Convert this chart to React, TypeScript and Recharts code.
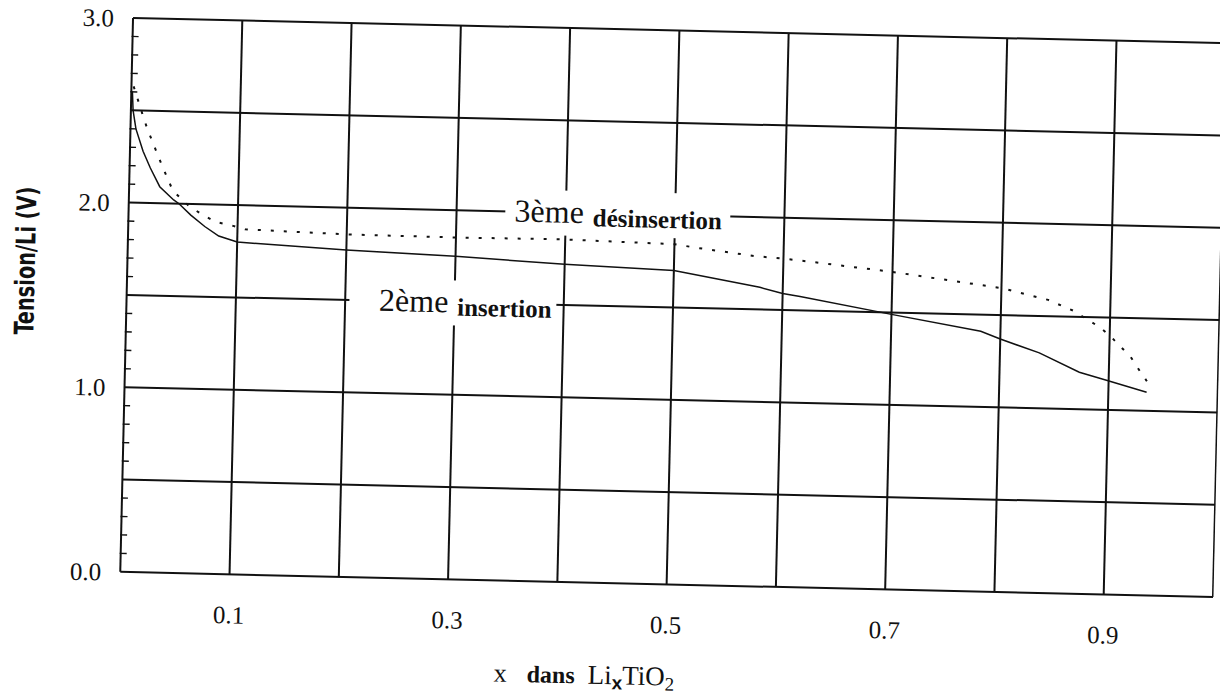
import React from 'react';
import { LineChart, Line, XAxis, YAxis, CartesianGrid, ReferenceDot } from 'recharts';

// 2ème insertion (solid)
const insertionX = [0.001, 0.002, 0.005, 0.012, 0.019, 0.028, 0.041, 0.046, 0.057, 0.07, 0.083, 0.1, 0.2, 0.3, 0.4, 0.5, 0.579, 0.6, 0.616, 0.7, 0.782, 0.8, 0.836, 0.873, 0.898, 0.935];
const insertionV = [2.6, 2.5, 2.4, 2.28, 2.19, 2.09, 2.02, 2.0, 1.94, 1.88, 1.83, 1.8, 1.77, 1.75, 1.72, 1.7, 1.62, 1.59, 1.575, 1.49, 1.41, 1.37, 1.3, 1.2, 1.16, 1.1];

// 3ème désinsertion (dotted)
const desinsertionX = [0.002, 0.0104, 0.0155, 0.022, 0.03, 0.037, 0.04, 0.055, 0.067, 0.08, 0.096, 0.107, 0.2, 0.3, 0.4, 0.5, 0.518, 0.573, 0.6, 0.623, 0.7, 0.8, 0.843, 0.866, 0.89, 0.9, 0.909, 0.919, 0.93, 0.935];
const desinsertionV = [2.63, 2.485, 2.4, 2.31, 2.2, 2.11, 2.07, 1.99, 1.946, 1.906, 1.887, 1.87, 1.855, 1.852, 1.855, 1.843, 1.828, 1.789, 1.778, 1.766, 1.72, 1.646, 1.588, 1.533, 1.449, 1.404, 1.35, 1.295, 1.2, 1.16];

// axes
const xGridTicks = [0, 0.1, 0.2, 0.3, 0.4, 0.5, 0.6, 0.7, 0.8, 0.9, 1];
const xLabelTicks = [0.1, 0.3, 0.5, 0.7, 0.9];
const xMinorTicks = [
  0.02, 0.04, 0.06, 0.08, 0.12, 0.14, 0.16, 0.18, 0.22, 0.24, 0.26, 0.28,
  0.32, 0.34, 0.36, 0.38, 0.42, 0.44, 0.46, 0.48, 0.52, 0.54, 0.56, 0.58,
  0.62, 0.64, 0.66, 0.68, 0.72, 0.74, 0.76, 0.78, 0.82, 0.84, 0.86, 0.88,
  0.92, 0.94, 0.96, 0.98,
];
const yGridTicks = [0, 0.5, 1.0, 1.5, 2.0, 2.5, 3.0];
const yLabelTicks = [0, 1.0, 2.0, 3.0];
const yMinorTicks = [0.1, 0.2, 0.3, 0.4, 0.6, 0.7, 0.8, 0.9, 1.1, 1.2, 1.3, 1.4, 1.6, 1.7, 1.8, 1.9, 2.1, 2.2, 2.3, 2.4, 2.6, 2.7, 2.8, 2.9];

// annotations
const desinsertionLabel = { x: 0.448, y: 2.0, big: '3ème', small: 'désinsertion' };
const insertionLabel = { x: 0.31, y: 1.5, big: '2ème', small: 'insertion' };

const insertionData = insertionX.map((x, i) => ({ x, v: insertionV[i] }));
const desinsertionData = desinsertionX.map((x, i) => ({ x, v: desinsertionV[i] }));

const SERIF = "'Liberation Serif', 'Times New Roman', Times, serif";
const INK = '#111';

const near = (a: number, list: number[]) => list.some((b) => Math.abs(a - b) < 1e-6);

const MajorXTick = (props: any) => {
  const { x, y, payload } = props;
  if (!near(payload.value, xLabelTicks)) return <g />;
  return (
    <text x={x} y={y + 49} textAnchor="middle" fontFamily={SERIF} fontSize={25} fill={INK}>
      {Number(payload.value).toFixed(1)}
    </text>
  );
};

const MinorXTick = (props: any) => {
  const { x, y } = props;
  return <line x1={x} x2={x} y1={y} y2={y - 6} stroke={INK} strokeWidth={1.4} />;
};

const MajorYTick = (props: any) => {
  const { x, y, payload } = props;
  if (!near(payload.value, yLabelTicks)) return <g />;
  return (
    <text x={x - 19} y={y + 9} textAnchor="end" fontFamily={SERIF} fontSize={25} fill={INK}>
      {Number(payload.value).toFixed(1)}
    </text>
  );
};

const MinorYTick = (props: any) => {
  const { x, y } = props;
  return <line x1={x} x2={x + 7} y1={y} y2={y} stroke={INK} strokeWidth={1.4} />;
};

const XTitle = (props: any) => {
  const { x, y } = props.viewBox;
  return (
    <text x={x + 466} y={y + 101} textAnchor="middle" fontFamily={SERIF} fontSize={26} fill={INK}>
      <tspan>x</tspan>
      <tspan dx={20} fontSize={24} fontWeight="bold">dans</tspan>
      <tspan dx={13} fontSize={27}>Li</tspan>
      <tspan dy={5} fontSize={19} fontWeight="bold" fontFamily="'Liberation Sans', Arial, sans-serif">x</tspan>
      <tspan dy={-5} fontSize={27}>TiO</tspan>
      <tspan dy={5} fontSize={19}>2</tspan>
    </text>
  );
};

const YTitle = (props: any) => {
  const { x, y, height } = props.viewBox;
  const cx = x - 101;
  const cy = y + height / 2 - 32;
  return (
    <text
      x={cx}
      y={cy}
      transform={`rotate(-90 ${cx} ${cy})`}
      textAnchor="middle"
      dominantBaseline="central"
      fontFamily="'Liberation Sans Narrow', 'Arial Narrow', 'DejaVu Sans Condensed', sans-serif"
      fontWeight="bold"
      fontSize={27}
      textLength={148}
      lengthAdjust="spacingAndGlyphs"
      fill={INK}
    >
      Tension/Li (V)
    </text>
  );
};

const makeLabelShape = (big: string, small: string, left: number, right: number) => (props: any) => {
  const { cx, cy } = props;
  return (
    <g>
      <rect x={cx - left} y={cy - 22} width={left + right} height={45} fill="#fff" />
      <text x={cx} y={cy + 10} textAnchor="middle" fontFamily={SERIF} fill={INK}>
        <tspan fontSize={32}>{big}</tspan>
        <tspan dx={9} dy={3} fontSize={25} fontWeight="bold">{small}</tspan>
      </text>
    </g>
  );
};

const DesShape = makeLabelShape(desinsertionLabel.big, desinsertionLabel.small, 113, 112);
const InsShape = makeLabelShape(insertionLabel.big, insertionLabel.small, 116, 91);

export default function App() {
  return (
    <div style={{ position: 'absolute', left: 0, top: 0, width: 1220, height: 695, overflow: 'hidden', background: '#fff' }}>
      <div
        style={{
          position: 'absolute',
          left: 0,
          top: 0,
          width: 1220,
          height: 695,
          transform: 'rotate(1.32deg)',
          transformOrigin: '673px 307.5px',
        }}
      >
        <LineChart width={1220} height={695} margin={{ top: 30.5, right: 0.5, bottom: 108.5, left: 124.5 }}>
          <CartesianGrid xAxisId="main" yAxisId="main" stroke={INK} strokeWidth={2} />
          <XAxis
            xAxisId="main"
            type="number"
            dataKey="x"
            domain={[0, 1]}
            ticks={xGridTicks}
            interval={0}
            height={1}
            tickSize={0}
            tickMargin={0}
            tickLine={false}
            axisLine={false}
            tick={MajorXTick}
            allowDataOverflow
            label={XTitle}
          />
          <XAxis
            xAxisId="minor"
            type="number"
            domain={[0, 1]}
            ticks={xMinorTicks}
            interval={0}
            height={1}
            tickSize={0}
            tickMargin={0}
            tickLine={false}
            axisLine={false}
            tick={MinorXTick}
            allowDataOverflow
          />
          <YAxis
            yAxisId="main"
            type="number"
            domain={[0, 3]}
            ticks={yGridTicks}
            interval={0}
            width={1}
            tickSize={0}
            tickMargin={0}
            tickLine={false}
            axisLine={false}
            tick={MajorYTick}
            allowDataOverflow
            label={YTitle}
          />
          <YAxis
            yAxisId="minor"
            type="number"
            domain={[0, 3]}
            ticks={yMinorTicks}
            interval={0}
            width={1}
            tickSize={0}
            tickMargin={0}
            tickLine={false}
            axisLine={false}
            tick={MinorYTick}
            allowDataOverflow
          />
          <ReferenceDot xAxisId="main" yAxisId="main" x={desinsertionLabel.x} y={desinsertionLabel.y} r={0} shape={DesShape} />
          <ReferenceDot xAxisId="main" yAxisId="main" x={insertionLabel.x} y={insertionLabel.y} r={0} shape={InsShape} />
          <Line
            xAxisId="main"
            yAxisId="main"
            data={desinsertionData}
            dataKey="v"
            type="linear"
            stroke={INK}
            strokeWidth={2}
            strokeDasharray="3 10"
            dot={false}
            isAnimationActive={false}
          />
          <Line
            xAxisId="main"
            yAxisId="main"
            data={insertionData}
            dataKey="v"
            type="linear"
            stroke={INK}
            strokeWidth={1.5}
            dot={false}
            isAnimationActive={false}
          />
        </LineChart>
      </div>
    </div>
  );
}
